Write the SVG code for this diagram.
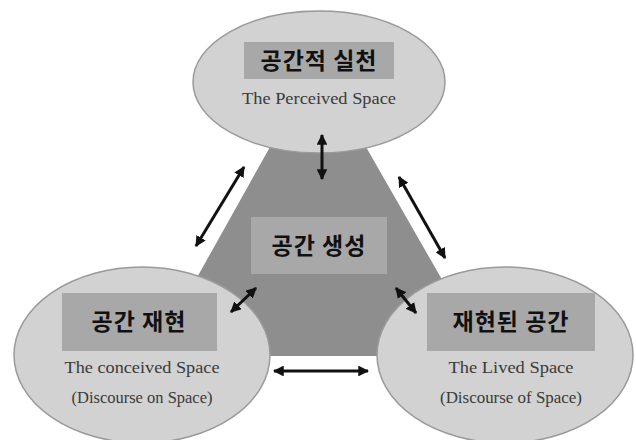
<svg xmlns="http://www.w3.org/2000/svg" width="636" height="440" viewBox="0 0 636 440">
<defs>
<marker id="ah" viewBox="0 0 10 10" refX="9" refY="5" markerWidth="3.6" markerHeight="3.6" orient="auto-start-reverse" markerUnits="strokeWidth">
<path d="M0,0 L10,5 L0,10 Z" fill="#111"/>
</marker>
<style>
.ell{fill:#d2d2d2;stroke:#9a9a9a;stroke-width:1.5}
.box{fill:#a8a8a8}
.ko{font-family:"Noto Sans CJK KR","Noto Sans",sans-serif;font-weight:bold;font-size:23px;fill:#111;text-anchor:middle;letter-spacing:1px}
.en{font-family:"Liberation Serif",serif;font-size:17px;fill:#3a3a3a;text-anchor:middle}
.arr{stroke:#111;stroke-width:3;fill:none;marker-start:url(#ah);marker-end:url(#ah)}
</style>
</defs>
<rect width="636" height="440" fill="#ffffff"/>
<g id="center">
<polygon points="270,147 366,147 448,290 448,356 190,356 190,290" fill="#8e8e8e"/>
<rect class="box" x="251" y="217" width="136" height="57"/>
<text class="ko" x="319" y="254">공간 생성</text>
</g>
<g id="top">
<ellipse class="ell" cx="319" cy="82" rx="126" ry="71"/>
<rect class="box" x="244" y="42" width="150" height="37"/>
<text class="ko" x="319" y="69">공간적 실천</text>
<text class="en" x="319" y="104" textLength="154" lengthAdjust="spacingAndGlyphs">The Perceived Space</text>
</g>
<g id="left">
<ellipse class="ell" cx="142" cy="355" rx="128" ry="88"/>
<rect class="box" x="62" y="293" width="155" height="58"/>
<text class="ko" x="139" y="330">공간 재현</text>
<text class="en" x="142" y="373" textLength="155" lengthAdjust="spacingAndGlyphs">The conceived Space</text>
<text class="en" x="142" y="403" textLength="141" lengthAdjust="spacingAndGlyphs">(Discourse on Space)</text>
</g>
<g id="right">
<ellipse class="ell" cx="505" cy="355" rx="128" ry="88"/>
<rect class="box" x="427" y="293" width="168" height="58"/>
<text class="ko" x="511" y="330">재현된 공간</text>
<text class="en" x="511" y="373" textLength="125" lengthAdjust="spacingAndGlyphs">The Lived Space</text>
<text class="en" x="511" y="403" textLength="142" lengthAdjust="spacingAndGlyphs">(Discourse of Space)</text>
</g>
<g id="connectors">
<line class="arr" x1="322" y1="135" x2="322" y2="179"/>
<line class="arr" x1="244" y1="167" x2="196" y2="246"/>
<line class="arr" x1="399" y1="177" x2="445" y2="258"/>
<line class="arr" x1="256" y1="288" x2="231" y2="312"/>
<line class="arr" x1="396" y1="288" x2="416" y2="313"/>
<line class="arr" x1="274" y1="371" x2="368" y2="371"/>
</g>
</svg>
